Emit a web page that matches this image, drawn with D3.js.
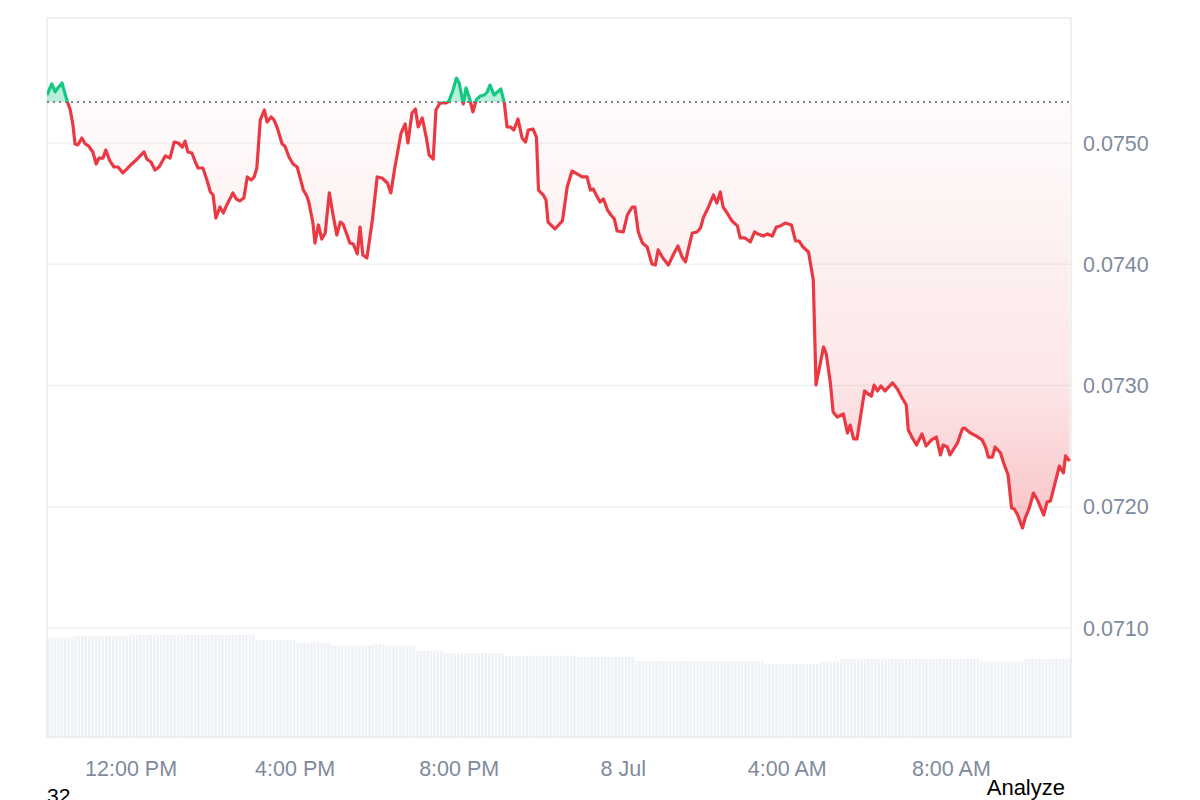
<!DOCTYPE html>
<html>
<head>
<meta charset="utf-8">
<script src="https://cdn.jsdelivr.net/npm/d3@7"></script>
<style>
	body { margin: 0; background: #fff; }
	#chart text { font-family: "Liberation Sans", Arial, sans-serif; }
</style>
</head>
<body>
<div id="chart"></div>
<script>
// minutes after 09:57 on 7 Jul
var minutes = [0,7,12,16,22,29,34,38,41,45,51,56,61,67,72,76,82,86,92,98,104,111,117,124,132,136,142,146,152,158,164,173,180,186,192,198,202,206,212,217,221,228,234,239,243,247,253,258,263,272,277,282,288,293,299,303,307,312,318,322,328,332,337,344,348,354,360,366,370,375,380,383,389,392,397,402,407,413,419,424,429,433,439,443,448,454,458,462,468,476,483,490,498,503,509,518,524,528,534,539,543,549,555,559,565,569,575,584,588,594,599,603,609,613,618,623,628,634,640,644,648,654,659,664,669,673,678,683,689,695,700,704,711,716,719,726,730,733,743,754,761,768,776,783,790,795,799,805,809,814,820,825,830,834,843,849,856,860,865,871,878,885,890,894,901,909,916,923,929,934,938,944,951,956,960,967,975,980,985,989,995,1002,1010,1014,1021,1029,1035,1040,1048,1054,1061,1067,1073,1080,1089,1095,1100,1106,1114,1121,1125,1136,1140,1146,1150,1156,1165,1171,1175,1180,1185,1196,1201,1206,1210,1215,1220,1226,1237,1244,1251,1257,1260,1266,1272,1280,1286,1294,1301,1307,1311,1317,1321,1332,1339,1342,1351,1359,1368,1373,1377,1383,1387,1395,1399,1406,1411,1415,1420,1427,1431,1437,1443,1449,1458,1463,1468,1472,1481,1487,1490,1496];

var prices = [0.075396,0.075487,0.075421,0.075454,0.075495,0.075355,0.075272,0.075148,0.074992,0.074984,0.075041,0.074992,0.074975,0.074926,0.074827,0.074876,0.074876,0.074942,0.074852,0.074802,0.074802,0.074753,0.074786,0.074827,0.074868,0.074893,0.074926,0.074868,0.074843,0.074777,0.074802,0.074893,0.074876,0.075008,0.075000,0.074967,0.075016,0.074926,0.074918,0.074843,0.074794,0.074794,0.074695,0.074596,0.074571,0.074381,0.074472,0.074423,0.074489,0.074588,0.074538,0.074522,0.074546,0.074720,0.074695,0.074720,0.074794,0.075190,0.075272,0.075173,0.075214,0.075190,0.075124,0.074992,0.074975,0.074885,0.074827,0.074802,0.074720,0.074612,0.074563,0.074513,0.074340,0.074175,0.074324,0.074208,0.074258,0.074588,0.074390,0.074241,0.074348,0.074332,0.074241,0.074175,0.074167,0.074085,0.074307,0.074076,0.074052,0.074365,0.074720,0.074711,0.074670,0.074588,0.074802,0.075082,0.075157,0.075000,0.075247,0.075280,0.075132,0.075206,0.075041,0.074901,0.074868,0.075272,0.075330,0.075330,0.075346,0.075437,0.075536,0.075495,0.075322,0.075454,0.075371,0.075256,0.075355,0.075388,0.075396,0.075421,0.075478,0.075396,0.075421,0.075445,0.075330,0.075132,0.075132,0.075107,0.075198,0.075041,0.075008,0.075107,0.075115,0.075049,0.074612,0.074571,0.074530,0.074348,0.074291,0.074357,0.074637,0.074769,0.074744,0.074720,0.074720,0.074612,0.074621,0.074555,0.074513,0.074538,0.074447,0.074406,0.074373,0.074274,0.074266,0.074406,0.074472,0.074472,0.074266,0.074175,0.074142,0.074002,0.073994,0.074118,0.074052,0.073994,0.074076,0.074151,0.074060,0.074019,0.074118,0.074258,0.074266,0.074299,0.074381,0.074464,0.074571,0.074505,0.074596,0.074472,0.074423,0.074357,0.074316,0.074217,0.074217,0.074184,0.074266,0.074250,0.074233,0.074250,0.074233,0.074307,0.074316,0.074340,0.074324,0.074192,0.074192,0.074142,0.074101,0.073870,0.073004,0.073318,0.073260,0.073021,0.072782,0.072740,0.072765,0.072608,0.072674,0.072559,0.072559,0.072955,0.072930,0.072913,0.073004,0.072955,0.072996,0.072955,0.073021,0.072971,0.072897,0.072839,0.072633,0.072567,0.072509,0.072600,0.072501,0.072551,0.072575,0.072427,0.072509,0.072493,0.072427,0.072526,0.072641,0.072650,0.072608,0.072584,0.072551,0.072493,0.072410,0.072410,0.072493,0.072443,0.072369,0.072262,0.071990,0.071982,0.071932,0.071825,0.071907,0.071990,0.072113,0.072056,0.071932,0.072039,0.072048,0.072138,0.072336,0.072279,0.072419,0.072377];

// price 24h ago (dotted reference line)
var basePrice = 0.075338;

// volume steps: start minute and value (M)
var volStart = [0,38,116,304,361,414,473,492,536,580,666,704,773,859,1048,1130,1159,1361,1428];
var volValue = [99.3,101,102,97,94.3,91.3,93,91.3,86,84,81,81.3,80,76,73,75.3,78,75.3,78];

var yTicks = [0.0710, 0.0720, 0.0730, 0.0740, 0.0750];
var xTickHours = [12, 16, 20, 24, 28, 32];
var xTickLabels = ["12:00 PM", "4:00 PM", "8:00 PM", "8 Jul", "4:00 AM", "8:00 AM"];

function init(){
	priceChart();
}

function priceChart(){
	var width = 1200;
	var height = 800;
	var left = 47, right = 1071, top = 18, bottom = 737;
	var red = "#ea3943", green = "#16c784", grey = "#808a9d";

	var start = new Date(2024, 6, 7, 9, 57);
	var day0 = new Date(2024, 6, 7, 0, 0);
	var toTime = function(m){ return new Date(start.getTime() + m * 60000); };

	var data = minutes.map(function(m, i){ return {t: toTime(m), p: prices[i]}; });

	var x = d3.scaleTime()
			  .domain([start, toTime(1498)])
			  .range([left, right]);

	var y = d3.scaleLinear()
			  .domain([0.070101, 0.076031])
			  .range([bottom, top]);

	var yVol = d3.scaleLinear().domain([0, 110]).range([bottom, bottom - 110]);

	var svg = d3.select("#chart").append("svg")
				.attr("width", width)
				.attr("height", height);

	var defs = svg.append("defs");
	var baseY = y(basePrice);

	defs.append("clipPath").attr("id", "above")
		.append("rect").attr("x", left).attr("y", top).attr("width", right - left).attr("height", baseY - top);
	defs.append("clipPath").attr("id", "below")
		.append("rect").attr("x", left).attr("y", baseY).attr("width", right - left).attr("height", bottom - baseY);

	var grad = defs.append("linearGradient").attr("id", "redFill")
				   .attr("gradientUnits", "userSpaceOnUse")
				   .attr("x1", 0).attr("x2", 0)
				   .attr("y1", baseY).attr("y2", y(d3.min(prices)));
	grad.append("stop").attr("offset", "0").attr("stop-color", red).attr("stop-opacity", 0.02);
	grad.append("stop").attr("offset", "0.65").attr("stop-color", red).attr("stop-opacity", 0.12);
	grad.append("stop").attr("offset", "1").attr("stop-color", red).attr("stop-opacity", 0.3);

	//gridlines
	svg.selectAll("line.grid").data(yTicks).enter()
		.append("line")
		.attr("class", "grid")
		.attr("x1", left).attr("x2", right)
		.attr("y1", d => y(d)).attr("y2", d => y(d))
		.attr("stroke", "#eff1f4")
		.attr("stroke-width", 1.5);

	//volume bars, one per 5 minutes
	var barMins = d3.range(0, 1496, 5);
	var volAt = function(m){
		var i = d3.bisectRight(volStart, m) - 1;
		return volValue[Math.max(0, i)];
	};
	svg.selectAll("rect.vol").data(barMins).enter()
		.append("rect")
		.attr("class", "vol")
		.attr("x", d => x(toTime(d)))
		.attr("width", d => x(toTime(d + 5)) - x(toTime(d)) - 1)
		.attr("y", d => yVol(volAt(d)))
		.attr("height", d => bottom - yVol(volAt(d)))
		.attr("fill", "#eef1f5");

	//plot frame
	svg.append("rect")
		.attr("x", left).attr("y", top)
		.attr("width", right - left).attr("height", bottom - top)
		.attr("fill", "none")
		.attr("stroke", "#e9ebee")
		.attr("stroke-width", 1.5);

	var area = d3.area()
				 .x(d => x(d.t))
				 .y0(baseY)
				 .y1(d => y(d.p));

	var line = d3.line()
				 .x(d => x(d.t))
				 .y(d => y(d.p));

	svg.append("path").datum(data)
		.attr("d", area)
		.attr("clip-path", "url(#below)")
		.attr("fill", "url(#redFill)");

	svg.append("path").datum(data)
		.attr("d", area)
		.attr("clip-path", "url(#above)")
		.attr("fill", green)
		.attr("fill-opacity", 0.3);

	//dotted reference line
	svg.append("line")
		.attr("x1", left).attr("x2", right)
		.attr("y1", baseY).attr("y2", baseY)
		.attr("stroke", "#7d828c")
		.attr("stroke-width", 2)
		.attr("stroke-dasharray", "2,4");

	svg.append("path").datum(data)
		.attr("d", line)
		.attr("clip-path", "url(#below)")
		.attr("fill", "none")
		.attr("stroke", red)
		.attr("stroke-width", 3.2)
		.attr("stroke-linejoin", "round");

	svg.append("path").datum(data)
		.attr("d", line)
		.attr("clip-path", "url(#above)")
		.attr("fill", "none")
		.attr("stroke", green)
		.attr("stroke-width", 3.2)
		.attr("stroke-linejoin", "round");

	//axis labels
	svg.selectAll("text.ylab").data(yTicks).enter()
		.append("text")
		.attr("class", "ylab")
		.attr("x", 1083)
		.attr("y", d => y(d))
		.attr("dy", "0.35em")
		.attr("fill", grey)
		.style("font-size", "21.5px")
		.text(d => d.toFixed(4));

	svg.selectAll("text.xlab").data(xTickHours).enter()
		.append("text")
		.attr("class", "xlab")
		.attr("x", d => x(new Date(day0.getTime() + d * 3600000)))
		.attr("y", 776)
		.attr("text-anchor", "middle")
		.attr("fill", grey)
		.style("font-size", "21.5px")
		.text((d, i) => xTickLabels[i]);

	//page bits around the chart (the "32" is cut by the window edge, as in the original)
	svg.append("text")
		.attr("x", 47).attr("y", 803)
		.attr("fill", "#000")
		.style("font-size", "21px")
		.text("32");

	svg.append("text")
		.attr("x", 1065).attr("y", 795)
		.attr("text-anchor", "end")
		.attr("fill", "#000")
		.style("font-size", "22px")
		.text("Analyze");
}

window.onload = init;
</script>
</body>
</html>
